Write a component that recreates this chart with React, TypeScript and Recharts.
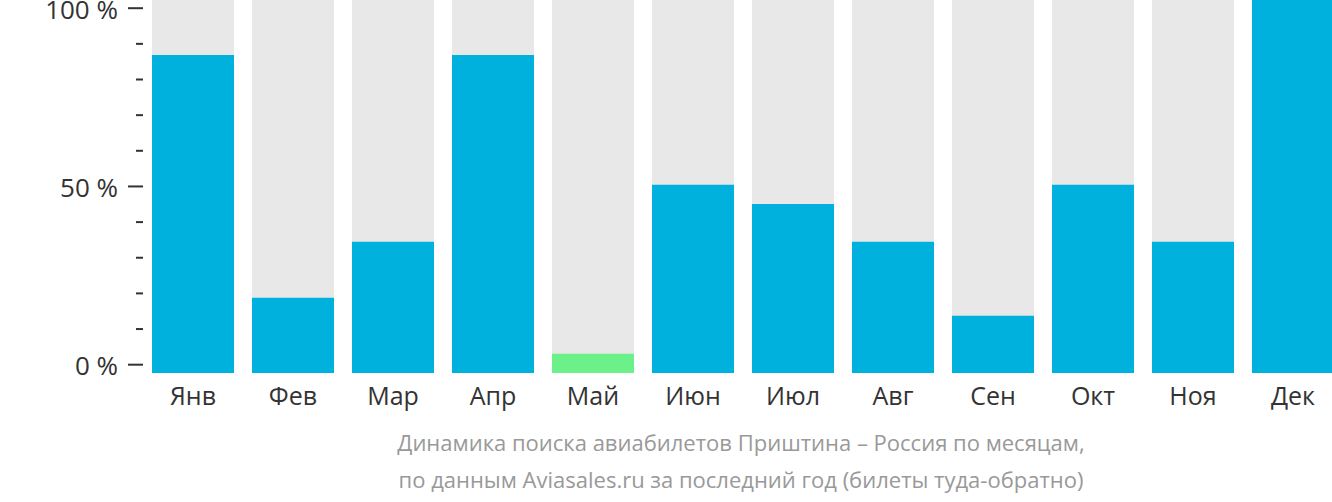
import React from "react";
import { Bar, BarChart, Cell, XAxis, YAxis } from "recharts";

const months = ["Янв", "Фев", "Мар", "Апр", "Май", "Июн", "Июл", "Авг", "Сен", "Окт", "Ноя", "Дек"];
const shares = [86.9, 18.8, 34.5, 86.9, 3.1, 50.5, 45.1, 34.5, 13.7, 50.5, 34.5, 102.3];
const lowMonth = "Май";
const yTicks = [0, 10, 20, 30, 40, 50, 60, 70, 80, 90, 100];
const labeledTicks = [0, 50, 100];

const BASE = -2.33;
const TOP = 102.3;

const data = months.map((m, i) => ({ month: m, range: [BASE, shares[i]] }));

const FONT = "'Open Sans', sans-serif";

function YTick(props: any) {
  const { x, y, payload } = props;
  const major = labeledTicks.includes(payload.value);
  return (
    <g>
      <line x1={major ? x - 15 : x - 7} x2={x} y1={y} y2={y} stroke="#333" strokeWidth={2} />
      {major && (
        <text x={x - 25} y={y} dy="0.4em" textAnchor="end" fill="#333" fontSize={26} fontFamily={FONT}>
          {`${payload.value} %`}
        </text>
      )}
    </g>
  );
}

export default function App() {
  return (
    <div style={{ position: "absolute", left: 0, top: 0, width: 1332, height: 502, overflow: "hidden", background: "#fff" }}>
      <BarChart width={1343} height={420} data={data} margin={{ top: 0, right: 0, left: 0, bottom: 0 }} barCategoryGap={9}>
        <XAxis
          dataKey="month"
          axisLine={false}
          tickLine={false}
          tickSize={0}
          tickMargin={14}
          height={47}
          interval={0}
          tick={{ fill: "#333", fontSize: 25, fontFamily: FONT }}
        />
        <YAxis
          type="number"
          domain={[BASE, TOP]}
          allowDataOverflow
          ticks={yTicks}
          interval={0}
          width={143}
          axisLine={false}
          tickLine={false}
          tickSize={0}
          tickMargin={0}
          tick={<YTick />}
        />
        <Bar dataKey="range" background={{ fill: "#e8e8e8" }} isAnimationActive={false}>
          {data.map((d) => (
            <Cell key={d.month} fill={d.month === lowMonth ? "#6cf08a" : "#00b1dd"} />
          ))}
        </Bar>
      </BarChart>
      <div
        style={{
          position: "absolute",
          left: 141,
          top: 424,
          width: 1200,
          textAlign: "center",
          color: "#999",
          fontFamily: FONT,
          fontSize: 22,
          lineHeight: "37px",
        }}
      >
        <div>Динамика поиска авиабилетов Приштина – Россия по месяцам,</div>
        <div>по данным Aviasales.ru за последний год (билеты туда-обратно)</div>
      </div>
    </div>
  );
}
